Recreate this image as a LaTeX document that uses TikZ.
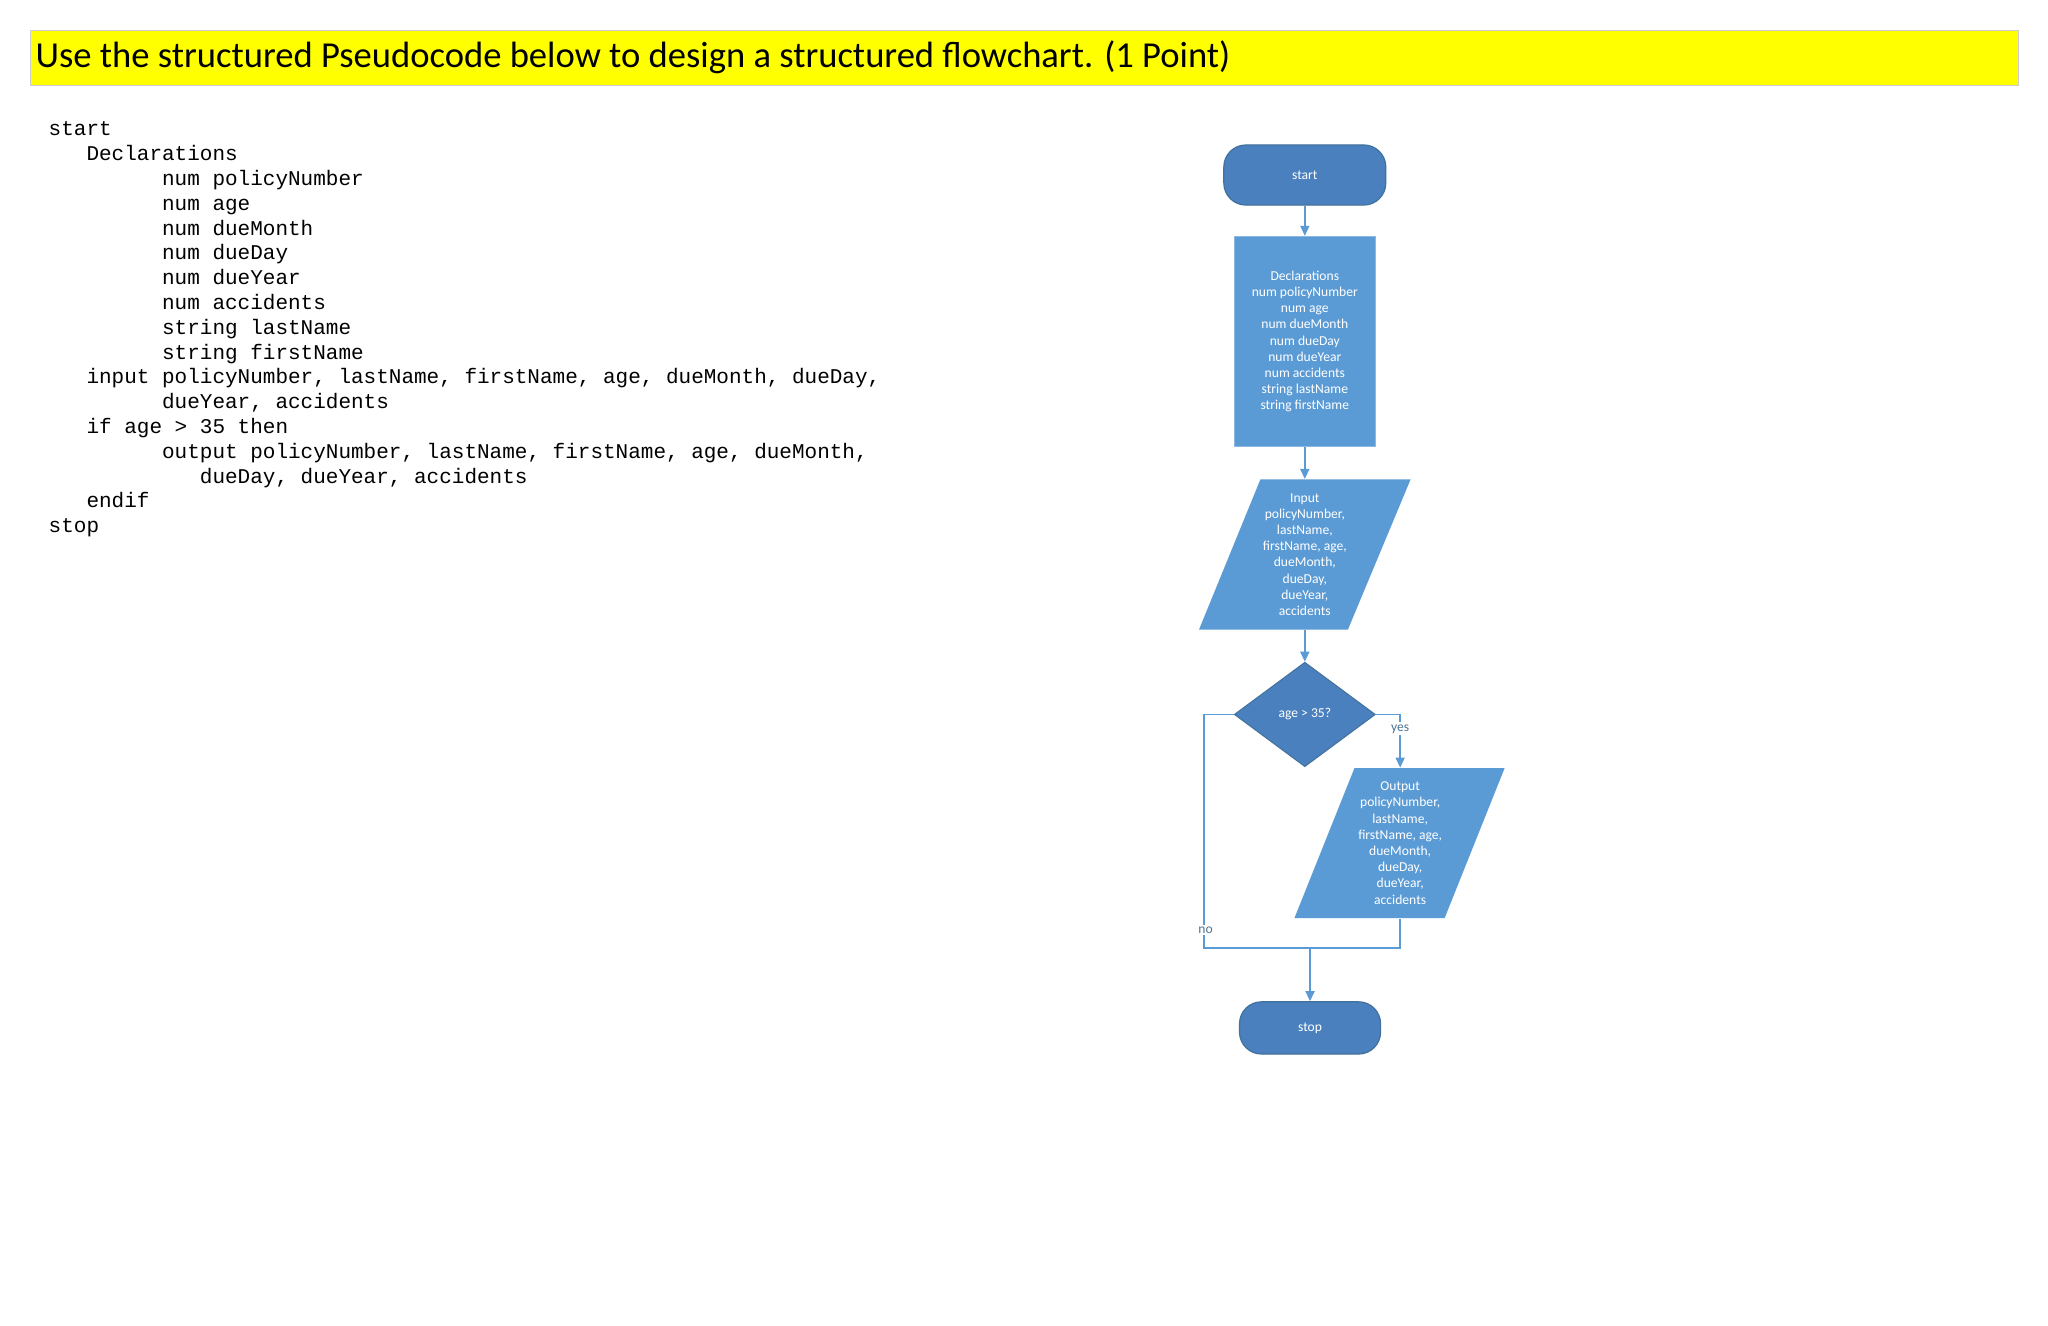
\documentclass[tikz,border=0pt]{standalone}
\usepackage{fontspec}
\setmainfont{Carlito}
\newfontfamily\codefont{Liberation Mono}
\usetikzlibrary{shapes.geometric,arrows.meta}
\definecolor{lblue}{HTML}{5B9BD5}
\definecolor{dblue}{HTML}{4A80BD}
\definecolor{edgeb}{HTML}{41719C}
\definecolor{ttl}{HTML}{FFFF00}
\begin{document}
\begin{tikzpicture}[x=0.6531pt,y=-0.6531pt,
  lbl/.style={text=white,font=\fontsize{6.8}{8.1}\selectfont,align=center,inner sep=0},
  term/.style={lbl,fill=dblue,draw=edgeb,rounded corners=11pt,line width=0.6pt},
  conn/.style={draw=lblue,line width=0.8pt},
  arr/.style={conn,-{Triangle[length=5pt,width=4.5pt]}},
  yn/.style={text=edgeb!80!gray,font=\fontsize{6.8}{8}\selectfont,inner sep=1pt}]
\useasboundingbox (0,0) rectangle (1568,1014.5);
\fill[white] (0,0) rectangle (1568,1014.5);
% title
\node[fill=ttl,draw=gray!40,minimum width=1522*0.6531pt,minimum height=42*0.6531pt,anchor=north west,inner sep=0] (title) at (23,23) {};
\node[anchor=west,inner sep=0,font=\fontsize{18.3}{22}\selectfont] (titletxt) at (27,44) {Use the structured Pseudocode below to design a structured flowchart. (1 Point)};
% code
\node[anchor=north west,inner sep=0,align=left,font=\codefont\fontsize{10.5}{12.4}\selectfont] (code) at (37,93) {%
start\\
\ \ \ Declarations\\
\ \ \ \ \ \ \ \ \ num policyNumber\\
\ \ \ \ \ \ \ \ \ num age\\
\ \ \ \ \ \ \ \ \ num dueMonth\\
\ \ \ \ \ \ \ \ \ num dueDay\\
\ \ \ \ \ \ \ \ \ num dueYear\\
\ \ \ \ \ \ \ \ \ num accidents\\
\ \ \ \ \ \ \ \ \ string lastName\\
\ \ \ \ \ \ \ \ \ string firstName\\
\ \ \ input policyNumber, lastName, firstName, age, dueMonth, dueDay,\\
\ \ \ \ \ \ \ \ \ dueYear, accidents\\
\ \ \ if age > 35 then\\
\ \ \ \ \ \ \ \ \ output policyNumber, lastName, firstName, age, dueMonth,\\
\ \ \ \ \ \ \ \ \ \ \ \ dueDay, dueYear, accidents\\
\ \ \ endif\\
stop};
% flowchart
\node[term,minimum width=124*0.6531pt,minimum height=46*0.6531pt] (start) at (999,134) {start};
\node[lbl,fill=lblue,draw=lblue!70!white,minimum width=108*0.6531pt,minimum height=161*0.6531pt,line width=0.6pt] (decl) at (999,261.5) {Declarations\\num policyNumber\\num age\\num dueMonth\\num dueDay\\num dueYear\\num accidents\\string lastName\\string firstName};
\fill[lblue] (965,367) -- (1080,367) -- (1032,482) -- (918,482) -- cycle;
\node[lbl,minimum width=70*0.6531pt,minimum height=115*0.6531pt] (inp) at (999,424.5) {Input\\policyNumber,\\lastName,\\firstName, age,\\dueMonth,\\dueDay,\\dueYear,\\accidents};
\node[diamond,aspect=1.35,fill=dblue,draw=edgeb,line width=0.5pt,inner sep=0,minimum width=108*0.6531pt,minimum height=80*0.6531pt,text=white,font=\fontsize{6.8}{8}\selectfont] (dec) at (999,547) {age > 35?};
\fill[lblue] (1037,588) -- (1152,588) -- (1106,703) -- (991,703) -- cycle;
\node[lbl,minimum width=70*0.6531pt,minimum height=115*0.6531pt] (outp) at (1072,645.5) {Output\\policyNumber,\\lastName,\\firstName, age,\\dueMonth,\\dueDay,\\dueYear,\\accidents};
\node[term,minimum width=108*0.6531pt,minimum height=40*0.6531pt] (stop) at (1003,787) {stop};
\coordinate (join) at (1003,726);
\draw[arr] (start.south) -- (decl.north);
\draw[arr] (decl.south) -- (inp.north);
\draw[arr] (inp.south) -- (dec.north);
\draw[arr] (dec.east) -| (outp.north);
\draw[conn] (dec.west) -| (922,726) -- (join);
\draw[conn] (outp.south) |- (join);
\draw[arr] (join) -- (stop.north);
\node[yn,fill=white] (yes) at (1072,558) {yes};
\node[yn,fill=white] (no) at (923,712) {no};
\end{tikzpicture}
\end{document}
